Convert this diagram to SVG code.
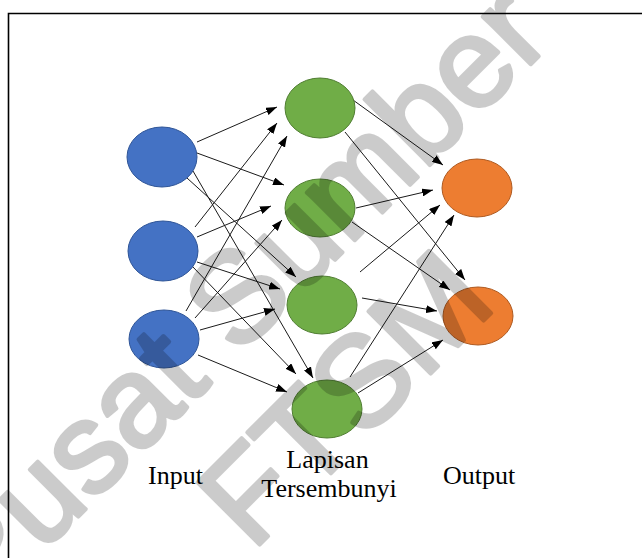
<svg xmlns="http://www.w3.org/2000/svg" width="642" height="558" viewBox="0 0 642 558">
  <style>
    .frame { fill: none; stroke: #000; stroke-width: 1.6; }
    .in { fill: #4472C4; stroke: #2F5597; stroke-width: 1; }
    .hid { fill: #70AD47; stroke: #507E32; stroke-width: 1; }
    .out { fill: #ED7D31; stroke: #AE5A21; stroke-width: 1; }
    .edge { stroke: #1a1a1a; stroke-width: 1; fill: none; marker-end: url(#arrow); }
    .label { font-family: "Liberation Sans", Arial, sans-serif; font-family: "Liberation Serif", "Times New Roman", serif; font-size: 26px; fill: #000; }
    .wm { font-family: "Liberation Sans", Arial, sans-serif; font-size: 128px; fill: #000; stroke: #000; stroke-width: 4; stroke-linejoin: round; }
  </style>
  <defs>
    <marker id="arrow" markerUnits="userSpaceOnUse" markerWidth="12" markerHeight="8" refX="11" refY="4" orient="auto">
      <path d="M0,0 L11,4 L0,8 z" fill="#000"/>
    </marker>
  </defs>

  <rect width="642" height="558" fill="#fff"/>
  <!-- page frame: left and top rules -->
  <path class="frame" d="M8.5,558 V13.5 H642"/>

  <!-- connectors -->
  <g id="connectors">
    <line class="edge" x1="197" y1="142" x2="277" y2="107"/>
    <line class="edge" x1="197" y1="153" x2="284" y2="185"/>
    <line class="edge" x1="187" y1="178" x2="296" y2="277"/>
    <line class="edge" x1="193" y1="171" x2="313" y2="378"/>
    <line class="edge" x1="195" y1="227" x2="277" y2="123"/>
    <line class="edge" x1="197" y1="237" x2="271" y2="206"/>
    <line class="edge" x1="197" y1="262" x2="280" y2="289"/>
    <line class="edge" x1="192" y1="266" x2="296" y2="374"/>
    <line class="edge" x1="186" y1="311" x2="287" y2="136"/>
    <line class="edge" x1="195" y1="318" x2="282" y2="220"/>
    <line class="edge" x1="200" y1="330" x2="275" y2="309"/>
    <line class="edge" x1="198" y1="355" x2="287" y2="392"/>
    <line class="edge" x1="353" y1="100" x2="443" y2="165"/>
    <line class="edge" x1="345" y1="132" x2="465" y2="280"/>
    <line class="edge" x1="356" y1="208" x2="433" y2="190"/>
    <line class="edge" x1="352" y1="222" x2="450" y2="290"/>
    <line class="edge" x1="360" y1="272" x2="440" y2="205"/>
    <line class="edge" x1="362" y1="298" x2="437" y2="311"/>
    <line class="edge" x1="350" y1="377" x2="454" y2="215"/>
    <line class="edge" x1="358" y1="393" x2="443" y2="340"/>
  </g>

  <!-- input layer -->
  <g id="input-1"><ellipse class="in" cx="162" cy="157" rx="35" ry="30"/></g>
  <g id="input-2"><ellipse class="in" cx="163" cy="251" rx="35" ry="30"/></g>
  <g id="input-3"><ellipse class="in" cx="164" cy="339" rx="35" ry="29"/></g>

  <!-- hidden layer -->
  <g id="hidden-1"><ellipse class="hid" cx="320" cy="108" rx="35" ry="30"/></g>
  <g id="hidden-2"><ellipse class="hid" cx="320" cy="208" rx="35" ry="29"/></g>
  <g id="hidden-3"><ellipse class="hid" cx="322" cy="305" rx="35" ry="29"/></g>
  <g id="hidden-4"><ellipse class="hid" cx="327" cy="409" rx="35" ry="29"/></g>

  <!-- output layer -->
  <g id="output-1"><ellipse class="out" cx="477" cy="188" rx="35" ry="29"/></g>
  <g id="output-2"><ellipse class="out" cx="478" cy="316" rx="35" ry="29"/></g>

  <!-- layer captions -->
  <g id="captions">
    <text class="label" x="148" y="484">Input</text>
    <text class="label" x="327.5" y="468" text-anchor="middle">Lapisan</text>
    <text class="label" x="329" y="497" text-anchor="middle">Tersembunyi</text>
    <text class="label" x="443" y="484">Output</text>
  </g>

  <!-- diagonal stamp, translucent over everything -->
  <g id="watermark" opacity="0.2" transform="translate(268,327) rotate(-45)">
    <text class="wm" x="0" y="0" text-anchor="middle">Pusat Sumber</text>
    <text class="wm" x="4" y="148" text-anchor="middle">FTSM</text>
  </g>
</svg>
